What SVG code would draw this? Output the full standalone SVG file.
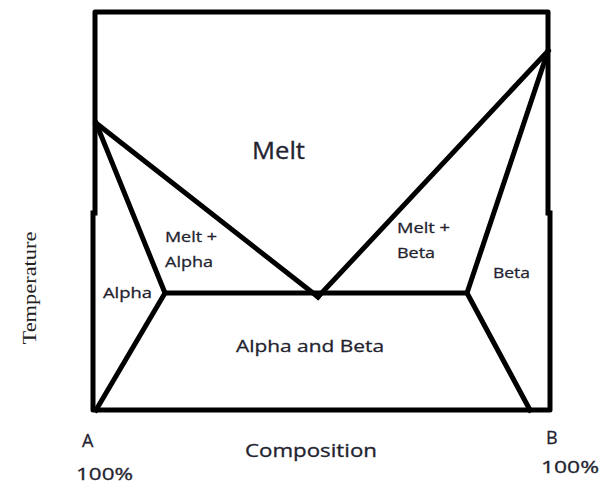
<svg xmlns="http://www.w3.org/2000/svg" width="609" height="487" viewBox="0 0 609 487">
<style>
.ln{stroke:#000;stroke-width:5;fill:none;stroke-linecap:square;stroke-linejoin:round}
.t{font-family:"Open Sans","Noto Sans",sans-serif;fill:#23232f;stroke:#23232f;stroke-width:0.3}
.s{font-size:15px}
</style>
<rect width="609" height="487" fill="#fff"/>
<g id="connectors">
<path class="ln" d="M95,213 V12 H548 V213"/>
<path class="ln" d="M93,213 V410 H550 V213"/>
<path class="ln" d="M96,123 L318,297"/>
<path class="ln" d="M548,51 L318,297"/>
<path class="ln" d="M165,293 H467"/>
<path class="ln" d="M96,123 L165,293 L96,410"/>
<path class="ln" d="M548,51 L467,293 L530,410"/>
</g>
<g id="melt"><text class="t" x="252" y="159" font-size="23" textLength="53" lengthAdjust="spacingAndGlyphs">Melt</text></g>
<g id="melt-alpha"><text class="t s" x="165" y="242" textLength="52" lengthAdjust="spacingAndGlyphs">Melt +</text><text class="t s" x="165" y="267" textLength="48" lengthAdjust="spacingAndGlyphs">Alpha</text></g>
<g id="alpha"><text class="t s" x="103" y="298" textLength="49" lengthAdjust="spacingAndGlyphs">Alpha</text></g>
<g id="melt-beta"><text class="t s" x="397" y="233" textLength="53" lengthAdjust="spacingAndGlyphs">Melt +</text><text class="t s" x="397" y="258" textLength="38" lengthAdjust="spacingAndGlyphs">Beta</text></g>
<g id="beta"><text class="t s" x="493" y="278" textLength="37" lengthAdjust="spacingAndGlyphs">Beta</text></g>
<g id="alpha-beta"><text class="t" x="236" y="352" font-size="17" textLength="148" lengthAdjust="spacingAndGlyphs">Alpha and Beta</text></g>
<g id="axis-x"><text class="t" x="245" y="457" font-size="18" textLength="132" lengthAdjust="spacingAndGlyphs">Composition</text></g>
<g id="label-a"><text class="t" x="82" y="447" font-size="18">A</text><text class="t" x="76" y="480" font-size="17" textLength="57" lengthAdjust="spacingAndGlyphs">100%</text></g>
<g id="label-b"><text class="t" x="546" y="444" font-size="18">B</text><text class="t" x="541" y="473" font-size="17" textLength="58" lengthAdjust="spacingAndGlyphs">100%</text></g>
<g id="axis-y"><text x="36" y="288" transform="rotate(-90 36 288)" text-anchor="middle" font-family="Liberation Serif,serif" font-size="19" fill="#222" textLength="113" lengthAdjust="spacingAndGlyphs">Temperature</text></g>
</svg>
